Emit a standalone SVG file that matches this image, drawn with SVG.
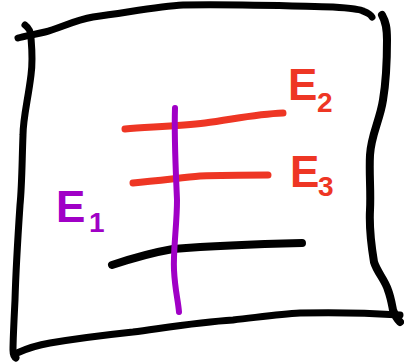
<svg xmlns="http://www.w3.org/2000/svg" width="404" height="363" viewBox="0 0 404 363">
<style>
.ln{fill:none;stroke-linecap:round;stroke-linejoin:round}
.k{stroke:#000}
.r{stroke:#EE3624}
.p{stroke:#A000C6}
.lbl{font-family:"Liberation Sans",Arial,sans-serif;font-weight:bold}
.lr{fill:#EE3624}
.lp{fill:#A000C6}
</style>
<rect width="404" height="363" fill="#fff"/>
<g id="frame">
<path class="ln k" stroke-width="7" d="M18,38 C25,36 33,35 45,32 C60,28 75,20 93,17 C130,12 160,6 183,5 C240,4 290,6 333,7 C348,8 360,9 363,11 C368,13 371,15 372,17"/>
<path class="ln k" stroke-width="7" d="M25,25 C29,28 31,31 31,38 C32,50 33,60 31,75 C28,100 23,118 23,135 C22,160 22,185 20,205 C18,235 16,265 15,300 C14,320 13,340 13,350 C13,354 14,357 16,358"/>
<path class="ln k" stroke-width="7" d="M17,353 C28,348 38,345 50,343 C80,338 105,335 133,332 C170,327 200,322 233,320 C260,317 280,314 300,313 C340,312 370,313 400,315"/>
<path class="ln k" stroke-width="8" d="M382,15 C386,22 387,28 387,40 C387,60 386,82 383,100 C380,120 371,135 370,155 C369,175 371,190 370,210 C369,230 372,250 374,262 C377,272 385,280 388,290 C391,298 392,305 393,310 C395,316 398,320 400,322"/>
</g>
<g id="ground">
<path class="ln k" stroke-width="8" d="M112,265 C130,259 150,253 173,249 C210,246 260,244 302,243"/>
</g>
<g id="E2line">
<path class="ln r" stroke-width="7" d="M125,129 C150,127 180,126 205,123 C230,120 255,114 283,113"/>
</g>
<g id="E3line">
<path class="ln r" stroke-width="7" d="M133,183 C155,181 180,178 200,176 C225,175 250,175 268,175"/>
</g>
<g id="E1line">
<path class="ln p" stroke-width="6" d="M175,108 C174,140 176,175 177,200 C177,225 173,250 174,270 C175,290 178,300 179,312"/>
</g>
<g id="labels">
<text class="lbl lr" font-size="44" x="288" y="100">E<tspan font-size="28" x="317" y="112">2</tspan></text>
<text class="lbl lr" font-size="44" x="290" y="187">E<tspan font-size="28" x="318" y="196">3</tspan></text>
<text class="lbl lp" font-size="44" x="56" y="222">E<tspan font-size="28" x="89" y="232">1</tspan></text>
</g>
</svg>
